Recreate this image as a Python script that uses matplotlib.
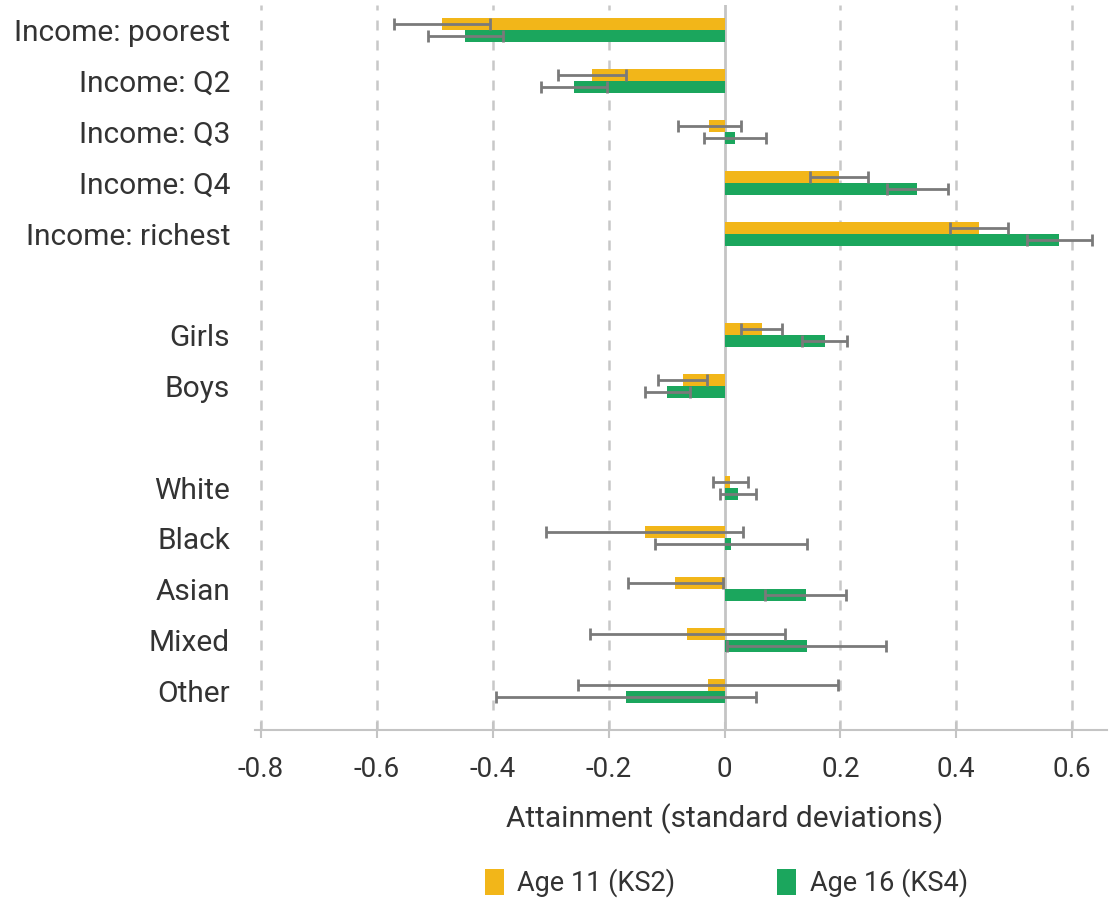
import numpy as np
import matplotlib
matplotlib.use("Agg")
import matplotlib.pyplot as plt
from matplotlib.patches import Patch

plt.rcParams['font.family'] = ['Roboto', 'DejaVu Sans']

categories = ["Income: poorest", "Income: Q2", "Income: Q3", "Income: Q4", "Income: richest",
              "Girls", "Boys",
              "White", "Black", "Asian", "Mixed", "Other"]
# slot positions (gaps between groups)
slots = [0, 1, 2, 3, 4, 6, 7, 9, 10, 11, 12, 13]

ks2 = [-0.487, -0.229, -0.026, 0.197, 0.439, 0.064, -0.072, 0.010, -0.138, -0.085, -0.064, -0.028]
ks2_err = [0.083, 0.059, 0.054, 0.050, 0.050, 0.035, 0.042, 0.030, 0.170, 0.082, 0.168, 0.224]
ks4 = [-0.447, -0.260, 0.018, 0.333, 0.578, 0.173, -0.099, 0.023, 0.011, 0.140, 0.142, -0.170]
ks4_err = [0.064, 0.057, 0.054, 0.053, 0.056, 0.039, 0.039, 0.031, 0.131, 0.070, 0.137, 0.224]

ticks = [-0.8, -0.6, -0.4, -0.2, 0, 0.2, 0.4, 0.6]
tick_labels = ["-0.8", "-0.6", "-0.4", "-0.2", "0", "0.2", "0.4", "0.6"]

YELLOW = "#F2B619"
GREEN = "#1BA65D"
ERR = "#7a7a7a"
TXT = "#333333"

fig = plt.figure(figsize=(11.14, 8.99), dpi=100)
ax = fig.add_axes([0.229, 0.188, 0.7647, 0.8065])

pos = np.array(slots, dtype=float)
h = 0.235

ax.barh(pos - h / 2, ks2, height=h, color=YELLOW, zorder=2)
ax.barh(pos + h / 2, ks4, height=h, color=GREEN, zorder=2)
ax.errorbar(ks2, pos - h / 2, xerr=ks2_err, fmt="none", ecolor=ERR, elinewidth=2,
            capsize=4.3, capthick=2, zorder=3)
ax.errorbar(ks4, pos + h / 2, xerr=ks4_err, fmt="none", ecolor=ERR, elinewidth=2,
            capsize=4.3, capthick=2, zorder=3)

# grid lines
for t in ticks:
    if t == 0:
        ax.axvline(0, color="#c4c4c4", lw=2, zorder=1)
    else:
        ax.axvline(t, color="#c8c8c8", lw=1.8, ls=(0, (4, 4)), zorder=1)

xmin, xmax = -0.81, 0.66
ax.set_xlim(xmin, xmax)
ax.set_ylim(13.77, -0.5)

ax.set_yticks(pos)
ax.set_yticklabels(categories, fontsize=21.5, color=TXT)
ax.tick_params(axis="y", length=0, pad=18)

ax.set_xticks(ticks)
ax.set_xticklabels(tick_labels, fontsize=20, color=TXT)
ax.tick_params(axis="x", direction="inout", length=12, width=1.5, color="#c4c4c4", pad=13)

for s in ["top", "right", "left"]:
    ax.spines[s].set_visible(False)
ax.spines["bottom"].set_color("#c4c4c4")
ax.spines["bottom"].set_linewidth(1.5)

ax.set_xlabel("Attainment (standard deviations)", fontsize=21.5, color=TXT)
# label sits centred under the zero line
ax.xaxis.set_label_coords((0 - xmin) / (xmax - xmin), -0.101)

handles = [Patch(facecolor=YELLOW, label="Age 11 (KS2)"),
           Patch(facecolor=GREEN, label="Age 16 (KS4)")]
leg = fig.legend(handles=handles, loc="center", bbox_to_anchor=(0.652, 0.018), ncol=2,
                 frameon=False, fontsize=19.5, handlelength=0.7, handleheight=1.1,
                 handletextpad=0.5, columnspacing=3.75)
for t in leg.get_texts():
    t.set_color(TXT)

fig.savefig("out.png", dpi=100)
